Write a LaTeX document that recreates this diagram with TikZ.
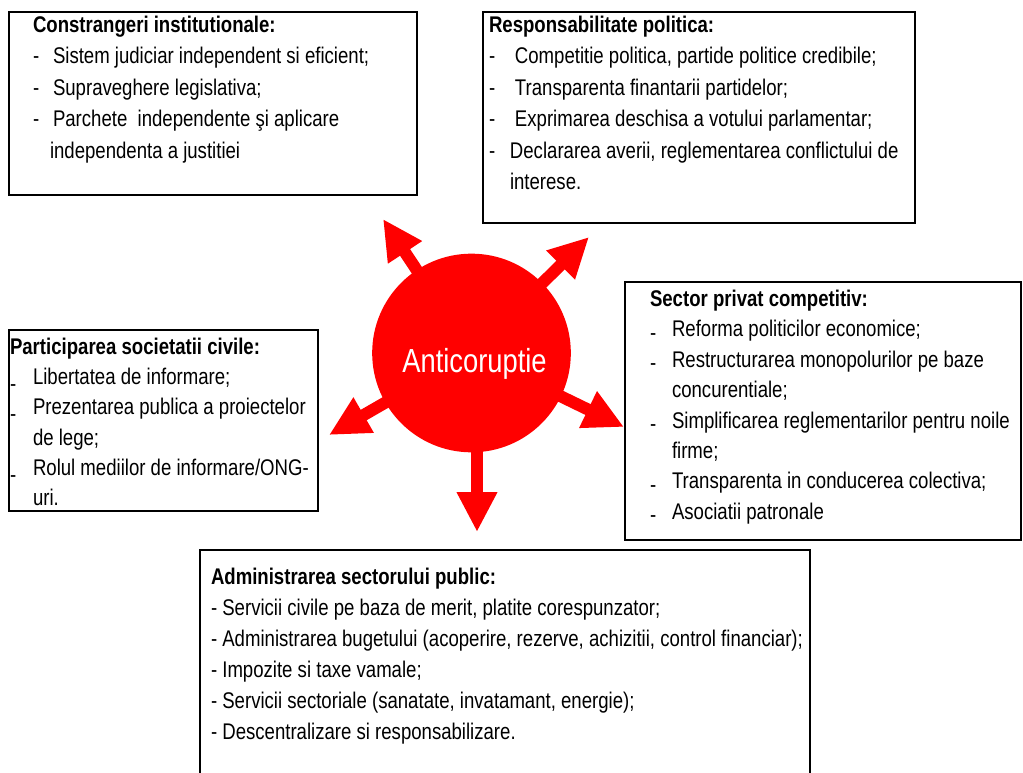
\documentclass[tikz,border=0pt]{standalone}
\usepackage{fontspec}
\setmainfont{Liberation Sans}[FakeStretch=0.82]
\usetikzlibrary{arrows.meta,positioning}

\newcommand{\li}[3][0pt]{\makebox[#2][l]{\raisebox{#1}{-}}#3}
\newcommand{\cont}[2]{\hspace*{#1}#2}

\begin{document}
\begin{tikzpicture}[x=0.75pt,y=-0.75pt,
  every node/.style={inner sep=0pt,outer sep=0pt},
  box/.style={draw=black, line width=0.8pt, rectangle, anchor=north west},
  txt/.style={align=left, anchor=north west, font=\fontsize{17}{23.6}\selectfont},
  sageata/.style={red, line width=9pt, -{Triangle[width=28.5pt,length=30pt]}, shorten <=-8pt}]

\useasboundingbox (0,0) rectangle (1023,773);

% Cercul central
\node[circle, fill=red, minimum size=149pt] (AC) at (471.5,353) {};
\node[text=white, font=\fontsize{25}{25}\selectfont] (ACtxt) at ([shift={(3,11)}]AC.center) {Anticoruptie};

% Casetele
\node[box, minimum width=306pt, minimum height=137.25pt] (CI) at (9,12) {};
\node[box, minimum width=324pt, minimum height=158.25pt] (RP) at (483,12) {};
\node[box, minimum width=231.75pt, minimum height=135.75pt] (PS) at (9,330) {};
\node[box, minimum width=297pt, minimum height=193.5pt] (SP) at (625,282) {};
\node[box, minimum width=457.5pt, minimum height=180pt] (AS) at (200,550) {};

% Textele
\node[txt] (CItxt) at ([shift={(24,4)}]CI.north west) {\textbf{Constrangeri institutionale:}\\
  \li{15pt}{Sistem judiciar independent si eficient;}\\
  \li{15pt}{Supraveghere legislativa;}\\
  \li{15pt}{Parchete \ independente şi aplicare}\\
  \cont{12.75pt}{independenta a justitiei}};

\node[txt] (RPtxt) at ([shift={(6,4)}]RP.north west) {\textbf{Responsabilitate politica:}\\
  \li{19.5pt}{Competitie politica, partide politice credibile;}\\
  \li{19.5pt}{Transparenta finantarii partidelor;}\\
  \li{19.5pt}{Exprimarea deschisa a votului parlamentar;}\\
  \li{15.75pt}{Declararea averii, reglementarea conflictului de}\\
  \cont{15.75pt}{interese.}};

\node[txt, font=\fontsize{17}{22.7}\selectfont] (PStxt) at ([shift={(1,8)}]PS.north west) {\textbf{Participarea societatii civile:}\\
  \li[-0.3em]{17.25pt}{Libertatea de informare;}\\
  \li[-0.3em]{17.25pt}{Prezentarea publica a proiectelor}\\
  \cont{17.25pt}{de lege;}\\
  \li[-0.3em]{17.25pt}{Rolul mediilor de informare/ONG-}\\
  \cont{17.25pt}{uri.}};

\node[txt, font=\fontsize{17}{22.8}\selectfont] (SPtxt) at ([shift={(25,8)}]SP.north west) {\textbf{Sector privat competitiv:}\\
  \li[-0.15em]{16.5pt}{Reforma politicilor economice;}\\
  \li[-0.15em]{16.5pt}{Restructurarea monopolurilor pe baze}\\
  \cont{16.5pt}{concurentiale;}\\
  \li[-0.15em]{16.5pt}{Simplificarea reglementarilor pentru noile}\\
  \cont{16.5pt}{firme;}\\
  \li[-0.15em]{16.5pt}{Transparenta in conducerea colectiva;}\\
  \li[-0.15em]{16.5pt}{Asociatii patronale}};

\node[txt, font=\fontsize{17}{23.2}\selectfont] (AStxt) at ([shift={(11,18)}]AS.north west) {\textbf{Administrarea sectorului public:}\\
  - Servicii civile pe baza de merit, platite corespunzator;\\
  - Administrarea bugetului (acoperire, rezerve, achizitii, control financiar);\\
  - Impozite si taxe vamale;\\
  - Servicii sectoriale (sanatate, invatamant, energie);\\
  - Descentralizare si responsabilizare.};

% Sagetile
\coordinate (tUL) at (383,219);
\coordinate (tUR) at (589,237);
\coordinate (tL) at (329,435);
\coordinate (tR) at (624,427);
\coordinate (tD) at (477,532);

\draw[sageata] (AC) -- (tUL);
\draw[sageata] (AC) -- (tUR);
\draw[sageata] (AC) -- (tL);
\draw[sageata] (AC) -- (tR);
\draw[sageata] (AC.south -| tD) -- (tD);

\end{tikzpicture}
\end{document}
